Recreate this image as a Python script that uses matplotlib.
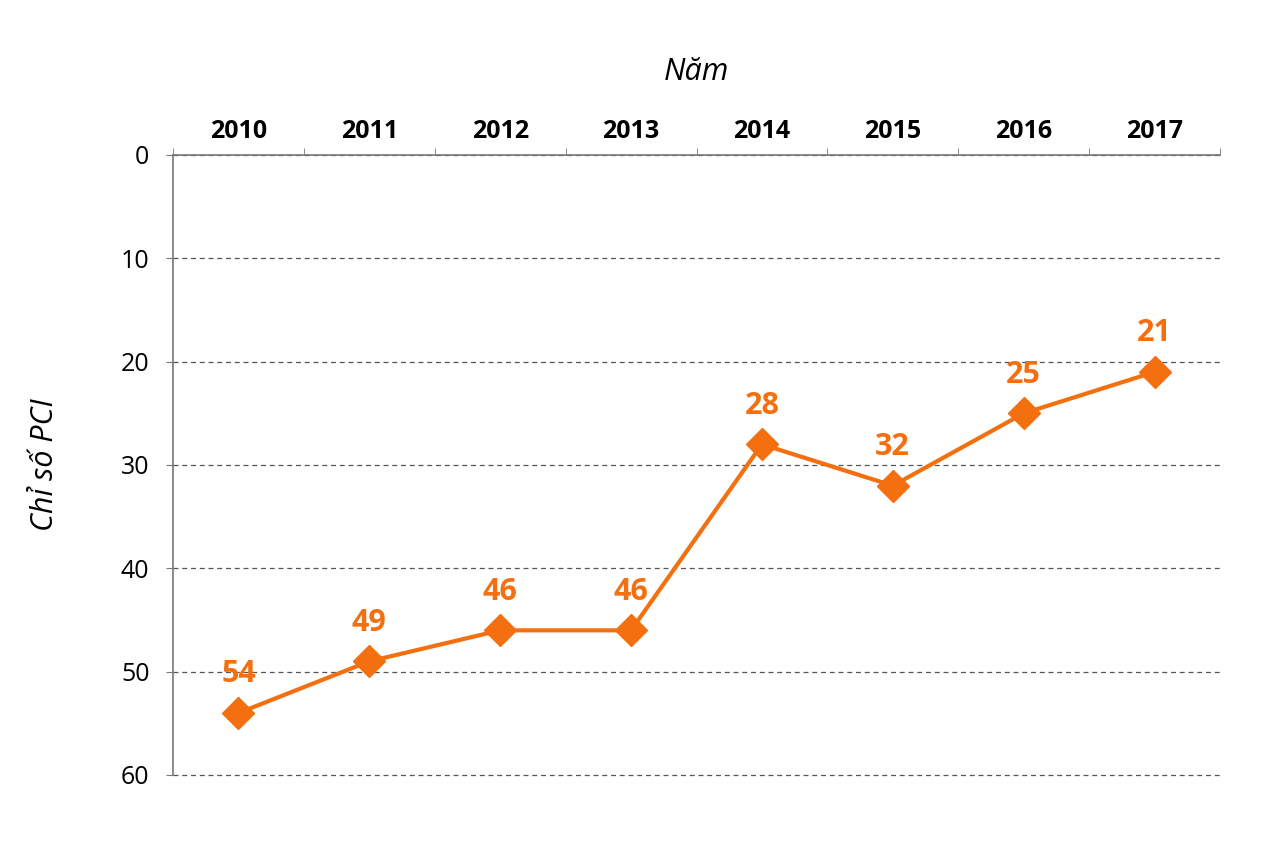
import matplotlib
matplotlib.use("Agg")
import matplotlib.pyplot as plt
import numpy as np

years = ["2010", "2011", "2012", "2013", "2014", "2015", "2016", "2017"]
pci_rank = [54, 49, 46, 46, 28, 32, 25, 21]
labels = ["54", "49", "46", "46", "28", "32", "25", "21"]

plt.rcParams['font.family'] = ['Open Sans', 'DejaVu Sans']

ORANGE = '#F46F0F'
fig = plt.figure(figsize=(12.76, 8.5), dpi=100)
ax = fig.add_axes([173/1276, 1-775/850, (1220-173)/1276, (775-155)/850])

x = np.arange(len(years))
ax.plot(x, pci_rank, color=ORANGE, lw=3, marker='D', markersize=16, zorder=3, clip_on=False)
for xi, yi, lab in zip(x, pci_rank, labels):
    ax.annotate(lab, (xi, yi), xytext=(0, 22), textcoords='offset points',
                ha='center', va='baseline', color=ORANGE, fontsize=22, fontweight='bold')

ax.set_xlim(-0.5, len(years) - 0.5)
ax.set_ylim(60, 0)
ax.set_yticks(np.arange(0, 61, 10))
ax.yaxis.grid(True, linestyle=(0, (4, 3)), color='#555555', lw=0.9)
for gl in ax.get_ygridlines():
    gl.set_clip_on(False)
ax.set_axisbelow(True)

ax.xaxis.tick_top()
ax.set_xticks(x)
ax.set_xticklabels(years, fontsize=18, fontweight='bold')
ax.set_xticks(np.arange(-0.5, len(years), 1), minor=True)
ax.tick_params(axis='x', which='major', length=0, pad=8)
ax.tick_params(axis='x', which='minor', length=5, color='#777777', direction='out')
ax.tick_params(axis='y', length=5, color='#777777', labelsize=18, pad=12)

for s in ['right', 'bottom']:
    ax.spines[s].set_visible(False)
for s in ['left', 'top']:
    ax.spines[s].set_color('#777777')
    ax.spines[s].set_linewidth(1.2)

ax.set_xlabel('Năm', fontsize=22, fontstyle='italic', labelpad=28)
ax.xaxis.set_label_position('top')
ax.set_ylabel('Chỉ số PCI', fontsize=22, fontstyle='italic', labelpad=44)

fig.savefig('out.png', dpi=100)
